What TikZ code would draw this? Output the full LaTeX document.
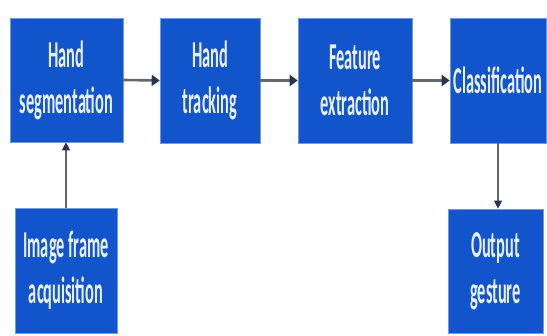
\documentclass[tikz,border=0pt]{standalone}
\usepackage{fontspec}
\usetikzlibrary{arrows.meta}
\newfontfamily\stagefont{Carlito}[FakeStretch=0.43]
\definecolor{stageblue}{RGB}{18,84,204}
\definecolor{stagetext}{RGB}{232,240,255}
\definecolor{linkgray}{RGB}{100,104,110}
\definecolor{tipnavy}{RGB}{40,52,80}
\tikzset{
  stage/.style={fill=stageblue, draw=stageblue!60!white, line width=0.6pt, inner sep=0pt,
    text=stagetext, align=center, font=\stagefont\bfseries\fontsize{38}{46}\selectfont},
  link/.style={draw=linkgray, line width=2.6pt, -{Triangle[length=8pt,width=11pt,color=tipnavy]}},
  uplink/.style={draw=linkgray, line width=1.2pt, -{Triangle[length=8pt,width=8pt,color=tipnavy]}}
}
\begin{document}
\begin{tikzpicture}[x=1pt,y=-1pt]
\useasboundingbox (0,0) rectangle (547,336);

\node [stage, minimum width=113pt, minimum height=124pt] (seg) at (66.5,80) {Hand\\segmentation};
\node [stage, minimum width=100pt, minimum height=125pt] (track) at (210,80.5) {Hand\\tracking};
\node [stage, minimum width=114pt, minimum height=125pt] (feat) at (355,80.5) {Feature\\extraction};
\node [stage, minimum width=96pt, minimum height=125pt] (cls) at (498,80.5) {Classification};
\node [stage, minimum width=102pt, minimum height=125pt] (acq) at (66,270.5) {Image frame\\acquisition};
\node [stage, minimum width=95pt, minimum height=124pt] (out) at (495.5,271) {Output\\gesture};

\draw [link] (seg.east) -- (track.west);
\draw [link] (track.east) -- (feat.west);
\draw [link] (feat.east) -- (cls.west);
\draw [uplink] (acq.north) -- (acq.north |- seg.south);
\draw [uplink] (cls.south) -- (cls.south |- out.north);
\end{tikzpicture}
\end{document}
